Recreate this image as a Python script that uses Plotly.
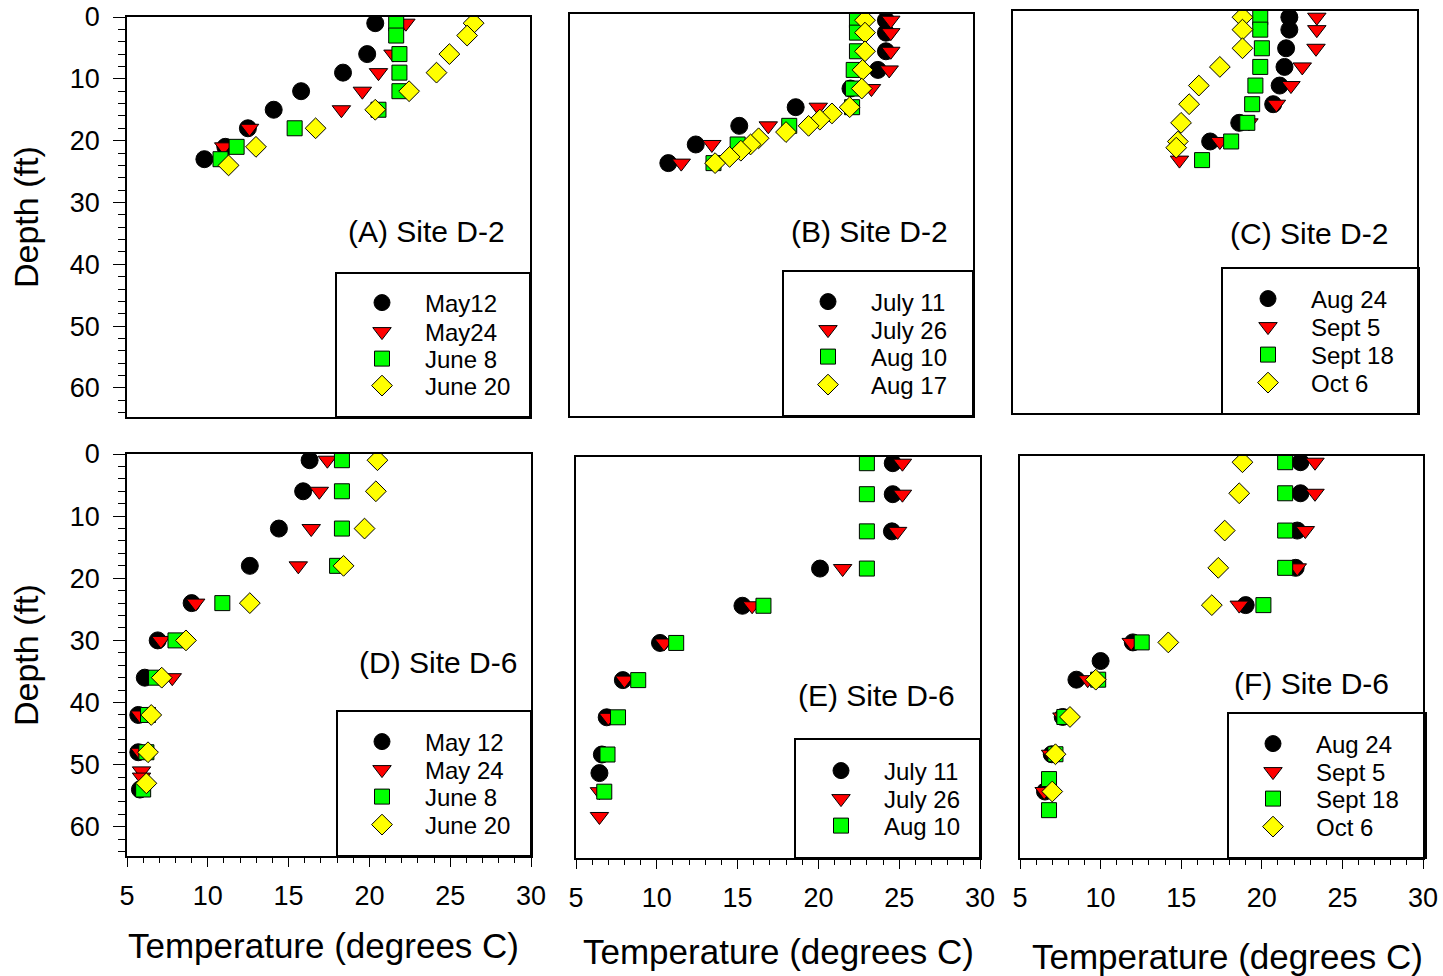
import plotly.graph_objects as go

W, H = 1443, 976
FONT = "Arial, Liberation Sans, sans-serif"

# ---------------- data (temperature degC, depth ft) ----------------
# Panel A - Site D-2
a_may12_t = [20.4, 19.9, 18.4, 15.8, 14.1, 12.5, 11.1, 9.8]
a_may12_d = [1, 6, 9, 12, 15, 18, 21, 23]
a_may24_t = [22.3, 21.5, 20.6, 19.6, 18.3, 12.6, 11.0]
a_may24_d = [1, 6, 9, 12, 15, 18, 21]
a_jun8_t = [21.7, 21.7, 21.9, 21.9, 21.9, 20.6, 15.4, 11.8, 10.8]
a_jun8_d = [1, 3, 6, 9, 12, 15, 18, 21, 23]
a_jun20_t = [26.5, 26.1, 25.0, 24.2, 22.5, 20.4, 16.7, 13.0, 11.3]
a_jun20_d = [1, 3, 6, 9, 12, 15, 18, 21, 24]

# Panel B - Site D-2
b_jul11_t = [24.6, 24.6, 24.6, 24.1, 22.4, 19.0, 15.5, 12.8, 11.1]
b_jul11_d = [1, 3, 6, 9, 12, 15, 18, 21, 24]
b_jul26_t = [24.9, 24.9, 24.9, 24.8, 23.7, 20.4, 17.3, 13.8, 11.9]
b_jul26_d = [1, 3, 6, 9, 12, 15, 18, 21, 24]
b_aug10_t = [22.8, 22.8, 22.8, 22.6, 22.55, 22.5, 18.6, 15.4, 13.9]
b_aug10_d = [1, 3, 6, 9, 12, 15, 18, 21, 24]
b_aug17_t = [23.3, 23.3, 23.3, 23.15, 23.1, 22.35, 21.25, 20.5, 19.8, 18.4,
             16.7, 16.2, 15.6, 14.9, 14.0]
b_aug17_d = [1, 3, 6, 9, 12, 15, 16, 17, 18, 19, 20, 21, 22, 23, 24]

# Panel C - Site D-2
c_aug24_t = [22.1, 22.1, 21.9, 21.8, 21.5, 21.1, 19.0, 17.2]
c_aug24_d = [1, 3, 6, 9, 12, 15, 18, 21]
c_sep5_t = [23.8, 23.8, 23.75, 22.9, 22.2, 21.3, 19.6, 17.8, 15.3]
c_sep5_d = [1, 3, 6, 9, 12, 15, 18, 21, 24]
c_sep18_t = [20.3, 20.3, 20.4, 20.3, 20.0, 19.8, 19.5, 18.5, 16.7]
c_sep18_d = [1, 3, 6, 9, 12, 15, 18, 21, 24]
c_oct6_t = [19.2, 19.2, 19.2, 17.8, 16.5, 15.9, 15.4, 15.2, 15.1]
c_oct6_d = [1, 3, 6, 9, 12, 15, 18, 21, 22]

# Panel D - Site D-6
d_may12_t = [16.3, 15.9, 14.4, 12.6, 9.0, 6.9, 6.1, 5.7, 5.7, 5.8]
d_may12_d = [1, 6, 12, 18, 24, 30, 36, 42, 48, 54]
d_may24_t = [17.4, 16.9, 16.4, 15.6, 9.25, 7.1, 7.8, 5.8, 5.8, 5.9, 5.9]
d_may24_d = [1, 6, 12, 18, 24, 30, 36, 42, 48, 51, 52]
d_jun8_t = [18.3, 18.3, 18.3, 18.0, 10.9, 8.0, 6.8, 6.3, 6.2, 6.0]
d_jun8_d = [1, 6, 12, 18, 24, 30, 36, 42, 48, 54]
d_jun20_t = [20.5, 20.4, 19.7, 18.4, 12.6, 8.65, 7.15, 6.5, 6.3, 6.2]
d_jun20_d = [1, 6, 12, 18, 24, 30, 36, 42, 48, 53]

# Panel E - Site D-6
e_jul11_t = [24.6, 24.6, 24.55, 20.1, 15.3, 10.2, 7.9, 6.9, 6.6, 6.45]
e_jul11_d = [1, 6, 12, 18, 24, 30, 36, 42, 48, 51]
e_jul26_t = [25.2, 25.2, 24.9, 21.5, 15.9, 10.45, 8.0, 7.0, 6.45, 6.45]
e_jul26_d = [1, 6, 12, 18, 24, 30, 36, 42, 54, 58]
e_aug10_t = [23.0, 23.0, 23.0, 23.0, 16.6, 11.2, 8.85, 7.6, 6.95, 6.75]
e_aug10_d = [1, 6, 12, 18, 24, 30, 36, 42, 48, 54]

# Panel F - Site D-6
f_aug24_t = [22.4, 22.4, 22.2, 22.1, 19.0, 12.0, 10.0, 8.5, 7.65, 6.97, 6.55]
f_aug24_d = [1, 6, 12, 18, 24, 30, 33, 36, 42, 48, 54]
f_sep5_t = [23.3, 23.3, 22.7, 22.2, 18.6, 11.9, 9.2, 7.6, 6.9, 6.5]
f_sep5_d = [1, 6, 12, 18, 24, 30, 36, 42, 48, 54]
f_sep18_t = [21.45, 21.45, 21.45, 21.45, 20.1, 12.55, 9.85, 7.75, 7.2, 6.8, 6.8]
f_sep18_d = [1, 6, 12, 18, 24, 30, 36, 42, 48, 52, 57]
f_oct6_t = [18.8, 18.6, 17.7, 17.3, 16.9, 14.2, 9.7, 8.1, 7.2, 7.0]
f_oct6_d = [1, 6, 12, 18, 24, 30, 36, 42, 48, 54]

labels_a = ["May12", "May24", "June 8", "June 20"]
labels_b = ["July 11", "July 26", "Aug 10", "Aug 17"]
labels_c = ["Aug 24", "Sept 5", "Sept 18", "Oct 6"]
labels_d = ["May 12", "May 24", "June 8", "June 20"]
labels_e = ["July 11", "July 26", "Aug 10"]
labels_f = ["Aug 24", "Sept 5", "Sept 18", "Oct 6"]

panel_titles = ["(A) Site D-2", "(B) Site D-2", "(C) Site D-2",
                "(D) Site D-6", "(E) Site D-6", "(F) Site D-6"]

x_ticks = [5, 10, 15, 20, 25, 30]
y_ticks = [0, 10, 20, 30, 40, 50, 60]

series = [
    [(a_may12_t, a_may12_d), (a_may24_t, a_may24_d), (a_jun8_t, a_jun8_d), (a_jun20_t, a_jun20_d)],
    [(b_jul11_t, b_jul11_d), (b_jul26_t, b_jul26_d), (b_aug10_t, b_aug10_d), (b_aug17_t, b_aug17_d)],
    [(c_aug24_t, c_aug24_d), (c_sep5_t, c_sep5_d), (c_sep18_t, c_sep18_d), (c_oct6_t, c_oct6_d)],
    [(d_may12_t, d_may12_d), (d_may24_t, d_may24_d), (d_jun8_t, d_jun8_d), (d_jun20_t, d_jun20_d)],
    [(e_jul11_t, e_jul11_d), (e_jul26_t, e_jul26_d), (e_aug10_t, e_aug10_d)],
    [(f_aug24_t, f_aug24_d), (f_sep5_t, f_sep5_d), (f_sep18_t, f_sep18_d), (f_oct6_t, f_oct6_d)],
]
labels = [labels_a, labels_b, labels_c, labels_d, labels_e, labels_f]

# ---------------- layout geometry (pixels) ----------------
# frame: left, right, top, bottom
frames = [
    (127, 530, 17, 417),
    (570, 973, 14, 416),
    (1013, 1417, 11, 413),
    (127, 531, 454, 856),
    (576, 980, 457, 858),
    (1020, 1423, 456, 858),
]
# legend boxes: left, top, right, bottom
leg_boxes = [
    (336, 273, 530, 417),
    (783, 271, 973, 416),
    (1222, 268, 1419, 414),
    (337, 711, 531, 856),
    (795, 739, 980, 858),
    (1228, 713, 1426, 858),
]
# legend symbol x and row centres
leg_sym_x = [384, 830, 1270, 384, 843, 1275]
leg_rows = [
    [303, 332, 359, 386],
    [302, 330, 357, 385],
    [299, 327, 355, 383],
    [742, 770, 797, 825],
    [771, 799, 826],
    [744, 772, 799, 827],
]
# panel title right edge / vertical centre
title_pos = [(507, 231), (950, 231), (1390, 233), (519, 662), (957, 695), (1391, 683)]

styles = [
    dict(symbol="circle", color="#000000", size=17),
    dict(symbol="triangle-down", color="#FF0000", size=16),
    dict(symbol="square", color="#00FF00", size=15),
    dict(symbol="diamond", color="#FFFF00", size=16),
]

YMAX = 64.7

fig = go.Figure()
layout = dict(
    width=W, height=H, margin=dict(l=0, r=0, t=0, b=0, autoexpand=False),
    paper_bgcolor="white", plot_bgcolor="white",
    font=dict(family=FONT, color="black"),
    showlegend=True,
    shapes=[], annotations=[],
)

def fx(p):
    return p / W

def fy(p):
    return 1 - p / H

leg_count = 0
for i in range(6):
    n = "" if i == 0 else str(i + 1)
    xa, ya = "x" + n, "y" + n
    for j, (t, d) in enumerate(series[i]):
        st = styles[j]
        leg_count += 1
        legname = "legend" if leg_count == 1 else "legend%d" % leg_count
        fig.add_trace(go.Scatter(
            x=t, y=d, mode="markers", name=labels[i][j],
            xaxis=xa, yaxis=ya, legend=legname,
            marker=dict(symbol=st["symbol"], color=st["color"], size=st["size"],
                        line=dict(color="black", width=1)),
        ))
        layout[legname] = dict(
            x=fx(leg_sym_x[i] - 45), y=fy(leg_rows[i][j]),
            xanchor="left", yanchor="middle",
            bgcolor="rgba(0,0,0,0)", borderwidth=0,
            font=dict(size=24, family=FONT, color="black"),
            itemwidth=76,
        )
    l, r, t0, b = frames[i]
    bottom_row = i >= 3
    left_col = i in (0, 3)
    xdict = dict(
        domain=[fx(l), fx(r)], range=[5, 30], anchor=ya,
        showline=True, mirror=True, linecolor="black", linewidth=1.5,
        showgrid=False, zeroline=False,
    )
    if bottom_row:
        xdict.update(tickmode="array", tickvals=x_ticks, ticks="outside",
                     ticklen=9, tickwidth=1.2, tickcolor="black",
                     tickfont=dict(size=27, family=FONT), ticklabelstandoff=6,
                     minor=dict(dtick=1, tick0=5, ticks="outside", ticklen=5,
                                tickwidth=1.2, tickcolor="black", showgrid=False))
    else:
        xdict.update(showticklabels=False, ticks="")
    ydict = dict(
        domain=[fy(b), fy(t0)], range=[YMAX, 0], anchor=xa,
        showline=True, mirror=True, linecolor="black", linewidth=1.5,
        showgrid=False, zeroline=False,
    )
    if left_col:
        ydict.update(tickmode="array", tickvals=y_ticks, ticks="outside",
                     ticklen=12, tickwidth=1.2, tickcolor="black",
                     tickfont=dict(size=27, family=FONT), ticklabelstandoff=8,
                     minor=dict(dtick=2, tick0=0, ticks="outside", ticklen=7,
                                tickwidth=1.2, tickcolor="black", showgrid=False))
    else:
        ydict.update(showticklabels=False, ticks="")
    layout["xaxis" + n] = xdict
    layout["yaxis" + n] = ydict

    # legend box
    bl, bt, br, bb = leg_boxes[i]
    layout["shapes"].append(dict(
        type="rect", xref="paper", yref="paper",
        x0=fx(bl), x1=fx(br), y0=fy(bb), y1=fy(bt),
        line=dict(color="black", width=2), fillcolor="rgba(0,0,0,0)", layer="above",
    ))

    # panel title
    tx, ty = title_pos[i]
    layout["annotations"].append(dict(
        text=panel_titles[i], xref="paper", yref="paper",
        x=fx(tx), y=fy(ty), xanchor="right", yanchor="middle",
        showarrow=False, font=dict(size=30, family=FONT, color="black"),
    ))

# axis titles
for (cx, cy) in [(26, 217), (26, 655)]:
    layout["annotations"].append(dict(
        text="Depth (ft)", xref="paper", yref="paper", x=fx(cx), y=fy(cy),
        xanchor="center", yanchor="middle", textangle=-90, showarrow=False,
        font=dict(size=34, family=FONT, color="black"),
    ))
for (cx, cy) in [(323, 945), (778, 951), (1227, 956)]:
    layout["annotations"].append(dict(
        text="Temperature (degrees C)", xref="paper", yref="paper", x=fx(cx), y=fy(cy),
        xanchor="center", yanchor="middle", showarrow=False,
        font=dict(size=35, family=FONT, color="black"),
    ))

fig.update_layout(**layout)
fig.write_html("out.html")
